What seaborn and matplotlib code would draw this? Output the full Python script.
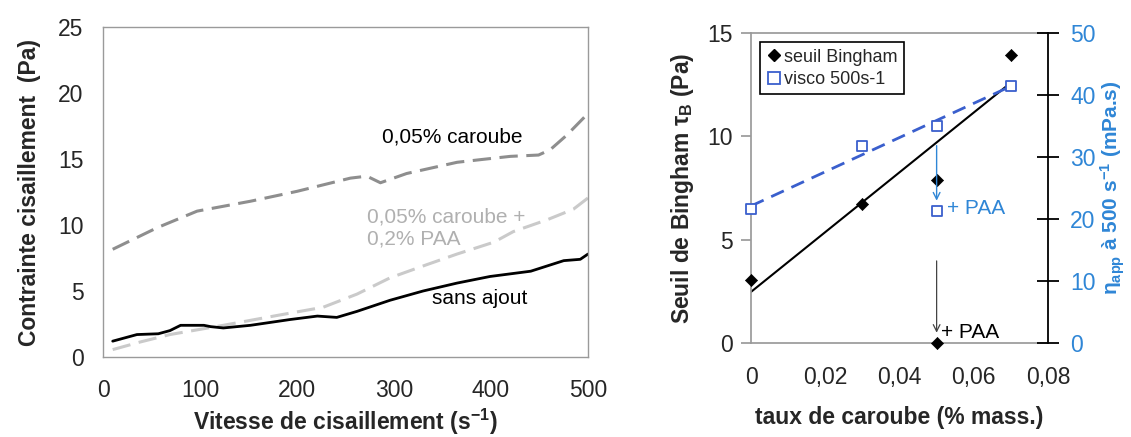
import numpy as np
import pandas as pd
import matplotlib
matplotlib.use("Agg")
import matplotlib.pyplot as plt
from matplotlib.lines import Line2D
import seaborn as sns

# --- left chart: flow curves ---
x_sans = [10, 35, 57, 69, 80, 104, 111, 124, 152, 193, 221, 241, 262, 296, 330, 365, 399, 441, 475, 492, 500]
y_sans = [1.2, 1.7, 1.76, 2.0, 2.4, 2.4, 2.3, 2.2, 2.4, 2.84, 3.1, 3.0, 3.46, 4.3, 5.0, 5.6, 6.1, 6.5, 7.3, 7.4, 7.8]

x_car = [10, 56, 97, 152, 200, 255, 272, 286, 313, 365, 389, 420, 449, 461, 478, 500]
y_car = [8.16, 9.8, 11.05, 11.8, 12.55, 13.55, 13.7, 13.2, 13.9, 14.75, 14.95, 15.2, 15.3, 15.7, 16.8, 18.45]

x_paa = [10, 38, 69, 124, 179, 227, 262, 296, 334, 365, 403, 423, 458, 485, 500]
y_paa = [0.56, 1.13, 1.7, 2.4, 3.14, 3.77, 4.77, 6.0, 7.0, 7.8, 8.7, 9.5, 10.4, 11.2, 12.05]

# --- right chart: Bingham yield stress / viscosity vs caroube content ---
taux = [0.0, 0.03, 0.05, 0.07]
seuil = [3.04, 6.71, 7.89, 13.95]
visco = [21.55, 31.8, 35.0, 41.5]
taux_paa = 0.05
seuil_paa = 0.0
visco_paa = 21.3

x_ticks_right = [0, 0.02, 0.04, 0.06, 0.08]
x_labels_right = ["0", "0,02", "0,04", "0,06", "0,08"]

GRAY_AX = "#9a9a9a"
BLUE_LINE = "#3a5fcd"
BLUE_TXT = "#2f86d6"

sns.set_theme(style="white")
plt.rcParams["font.family"] = ["Liberation Sans", "DejaVu Sans"]
plt.rcParams["mathtext.fontset"] = "custom"
plt.rcParams["mathtext.rm"] = "Liberation Sans"
plt.rcParams["mathtext.it"] = "Liberation Sans:italic"
plt.rcParams["mathtext.bf"] = "Liberation Sans:bold"

fig = plt.figure(figsize=(11.31, 4.37), dpi=100)
ax1 = fig.add_axes([103 / 1131, 1 - 357 / 437, 485 / 1131, 330 / 437])
ax2 = fig.add_axes([751 / 1131, 1 - 342.7 / 437, 297 / 1131, 309.4 / 437])

# ---------- left ----------
dash = (0, (6, 2.8))
sns.lineplot(x=x_car, y=y_car, ax=ax1, color="#8e8e8e", lw=2.2, linestyle=dash)
sns.lineplot(x=x_paa, y=y_paa, ax=ax1, color="#cacaca", lw=2.2, linestyle=dash)
sns.lineplot(x=x_sans, y=y_sans, ax=ax1, color="black", lw=2.0)

ax1.set_xlim(0, 500)
ax1.set_ylim(0, 25)
ax1.set_xticks(range(0, 501, 100))
ax1.set_yticks(range(0, 26, 5))
for s in ax1.spines.values():
    s.set_color(GRAY_AX)
    s.set_linewidth(1.0)
ax1.tick_params(direction="out", length=7, color=GRAY_AX, labelsize=16.5, pad=7)
ax1.tick_params(axis="x", pad=9)
ax1.set_xlabel("Vitesse de cisaillement (s$^{\\mathbf{-1}}$)", fontsize=16.5, fontweight="bold", labelpad=3)
ax1.set_ylabel("Contrainte cisaillement  (Pa)", fontsize=16.5, fontweight="bold", labelpad=12)

ax1.text(360, 16.7, "0,05% caroube", fontsize=15, ha="center", va="center", color="black")
ax1.text(272, 9.75, "0,05% caroube +\n0,2% PAA", fontsize=15, ha="left", va="center", color="#b0b0b0")
ax1.text(339, 4.4, "sans ajout", fontsize=15, ha="left", va="center", color="black")

# ---------- right ----------
ax3 = ax2.twinx()

sns.regplot(x=np.array(taux), y=np.array(seuil), ax=ax2, scatter=False, ci=None,
            color="black", line_kws={"lw": 1.5})
sns.scatterplot(x=taux + [taux_paa], y=seuil + [seuil_paa], ax=ax2, marker="D",
                color="black", s=38, edgecolor="black", zorder=5, clip_on=False)

sns.regplot(x=np.array(taux), y=np.array(visco), ax=ax3, scatter=False, ci=None,
            color=BLUE_LINE, line_kws={"lw": 2.0, "linestyle": (0, (5, 3))})
sns.scatterplot(x=taux + [taux_paa], y=visco + [visco_paa], ax=ax3, marker="s",
                facecolor="white", edgecolor=BLUE_LINE, linewidth=1.3, s=60, zorder=5,
                clip_on=False)

ax2.annotate("", xy=(taux_paa, 0.35), xytext=(taux_paa, 4.1),
             arrowprops=dict(arrowstyle="->", color="#444444", lw=0.9))
ax3.annotate("", xy=(taux_paa, 22.5), xytext=(taux_paa, 32.3),
             arrowprops=dict(arrowstyle="->", color=BLUE_TXT, lw=1.0))
ax3.text(0.0527, 21.7, "+ PAA", color=BLUE_TXT, fontsize=15, va="center", ha="left")
ax2.text(0.0512, 0.5, "+ PAA", color="black", fontsize=15, va="center", ha="left")

ax2.set_xlim(0, 0.08)
ax2.set_ylim(0, 15)
ax3.set_ylim(0, 50)
ax2.set_xticks(x_ticks_right)
ax2.set_xticklabels(x_labels_right)
ax2.set_yticks(range(0, 16, 5))
ax3.set_yticks(range(0, 51, 10))

for name in ["left", "top", "bottom"]:
    ax2.spines[name].set_color(GRAY_AX)
    ax3.spines[name].set_visible(False)
ax2.spines["right"].set_visible(False)
ax3.spines["right"].set_color("black")
ax3.spines["right"].set_linewidth(1.3)

ax2.tick_params(direction="out", length=7, color=GRAY_AX, labelsize=16.5)
ax2.tick_params(axis="x", pad=10)
ax2.tick_params(axis="y", pad=6)
ax3.tick_params(axis="y", direction="inout", length=16, width=1.3, color="black",
                labelcolor=BLUE_TXT, labelsize=16.5, pad=8)

ax2.set_xlabel("taux de caroube (% mass.)", fontsize=16.5, fontweight="bold", labelpad=12)
ax2.set_ylabel("Seuil de Bingham τ$_{\\mathbf{B}}$ (Pa)", fontsize=16.5, fontweight="bold", labelpad=8)
ax3.set_ylabel("η$_{\\mathbf{app}}$ à 500 s$^{\\mathbf{-1}}$ (mPa.s)", fontsize=15,
               fontweight="bold", color=BLUE_TXT, labelpad=2)

handles = [
    Line2D([], [], marker="D", color="black", linestyle="none", markersize=6),
    Line2D([], [], marker="s", markerfacecolor="white", markeredgecolor=BLUE_LINE,
           markeredgewidth=1.3, linestyle="none", markersize=8),
]
leg = ax3.legend(handles, ["seuil Bingham", "visco 500s-1"], loc="upper left",
                 fontsize=13, frameon=True, fancybox=False, framealpha=1,
                 edgecolor="black", borderaxespad=0.5, handletextpad=0.2,
                 handlelength=0.8, labelspacing=0.3, borderpad=0.35)
leg.get_frame().set_linewidth(1.2)

fig.savefig("out.png", dpi=100)
